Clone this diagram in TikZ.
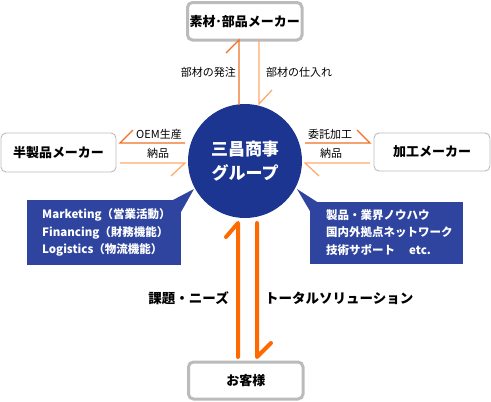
\documentclass[tikz,border=0pt]{standalone}
\usepackage{fontspec}
\setmainfont{Noto Sans CJK JP}
\usetikzlibrary{calc}
\definecolor{navy}{HTML}{1B3590}
\definecolor{boxblue}{HTML}{2F449F}
\definecolor{darkor}{HTML}{F07028}
\definecolor{lightor}{HTML}{FFAA6E}
\definecolor{thickor}{HTML}{FF6A00}
\definecolor{bordergray}{HTML}{BBBBBB}
\begin{document}
\begin{tikzpicture}[x=1pt,y=-1pt,
  makerbox/.style={draw=bordergray,line width=3pt,rounded corners=5pt,fill=white,
    inner sep=0pt,font=\fontsize{13}{15}\bfseries\selectfont},
  thinbox/.style={draw=bordergray,line width=0.9pt,rounded corners=5pt,fill=white,
    inner sep=0pt,font=\fontsize{13}{15}\bfseries\selectfont},
  bluebox/.style={fill=boxblue,inner sep=0pt},
  bluetext/.style={text=white,anchor=west,inner sep=0pt,font=\fontsize{11.5}{13}\bfseries\selectfont},
  lbl/.style={inner sep=0pt,font=\fontsize{11}{13}\selectfont},
  biglbl/.style={inner sep=0pt,font=\fontsize{13.5}{15}\bfseries\selectfont},
  darkline/.style={draw=darkor,line width=1.3pt},
  lightline/.style={draw=lightor,line width=1.3pt},
  thickline/.style={draw=thickor,line width=4pt,line cap=round,line join=round}]
\useasboundingbox (0,0) rectangle (491,402);

% blue info boxes with pointers
\node[bluebox,minimum width=154pt,minimum height=65pt] (mk) at (104,232.5) {};
\fill[boxblue] (172,200.5) -- (194,189) -- (181,212) -- cycle;
\node[bluebox,minimum width=153pt,minimum height=62pt] (kn) at (386.5,233) {};
\fill[boxblue] (297,189) -- (318,202.5) -- (310.5,212) -- cycle;

% circle
\node[circle,fill=navy,minimum size=114pt,inner sep=0pt,text=white,align=center,
  font=\fontsize{17}{24}\bfseries\selectfont] (grp) at (245,161) {三昌商事\\グループ};

% maker boxes
\node[makerbox,minimum width=114.5pt,minimum height=37.5pt] (top) at (244.75,21.25) {素材･部品メーカー};
\node[makerbox,minimum width=114.5pt,minimum height=37pt] (cust) at (245.75,380.5) {お客様};
\node[thinbox,minimum width=115pt,minimum height=39pt] (half) at (58.5,152.5) {半製品メーカー};
\node[thinbox,minimum width=116pt,minimum height=38pt] (proc) at (432,152) {加工メーカー};

% blue box texts
\node[bluetext] (m1) at (42,215) {Marketing（営業活動）};
\node[bluetext] (m2) at (42,232.5) {Financing（財務機能）};
\node[bluetext] (m3) at (42,250) {Logistics（物流機能）};
\node[bluetext] (k1) at (326,215) {製品・業界ノウハウ};
\node[bluetext] (k2) at (326,232.5) {国内外拠点ネットワーク};
\node[bluetext] (k3) at (326,250) {技術サポート\hspace{14pt}etc.};

% top connectors
\coordinate (t1a) at (239,40);
\coordinate (t1b) at (239,105);
\coordinate (t2a) at (259,40);
\coordinate (t2b) at (259,104);
\draw[darkline] ($(t1a)+(-13,13)$) -- (t1a) -- (t1b);
\draw[lightline] (t2a) -- (t2b) -- ++(13,-14);
\node[lbl,anchor=east] (l1) at (236,72) {部材の発注};
\node[lbl,anchor=west] (l2) at (266,72) {部材の仕入れ};

% left connectors
\coordinate (h1a) at (120,143);
\coordinate (h1b) at (185,143);
\coordinate (h2a) at (120,163);
\coordinate (h2b) at (185,163);
\draw[darkline] ($(h1a)+(13,-13)$) -- (h1a) -- (h1b);
\draw[lightline] (h2a) -- (h2b) -- ++(-14,13);
\node[lbl] (l3) at (159,134) {OEM生産};
\node[lbl] (l4) at (158,153) {納品};

% right connectors
\coordinate (p1a) at (305,143);
\coordinate (p1b) at (370,143);
\coordinate (p2a) at (305,163);
\coordinate (p2b) at (370,163);
\draw[darkline] (p1a) -- (p1b) -- ++(-13,-13);
\draw[lightline] ($(p2a)+(14,13)$) -- (p2a) -- (p2b);
\node[lbl] (l5) at (330,134) {委託加工};
\node[lbl] (l6) at (331,153) {納品};

% thick customer arrows
\coordinate (c1a) at (238,357);
\coordinate (c1b) at (238,223);
\coordinate (c2a) at (257,223);
\coordinate (c2b) at (257,357);
\draw[thickline] (c1a) -- (c1b) -- ++(-12,14);
\draw[thickline] (c2a) -- (c2b) -- ++(14,-14);
\node[biglbl,anchor=east] (l7) at (229,298) {課題・ニーズ};
\node[biglbl,anchor=west] (l8) at (265,298) {トータルソリューション};
\end{tikzpicture}
\end{document}
